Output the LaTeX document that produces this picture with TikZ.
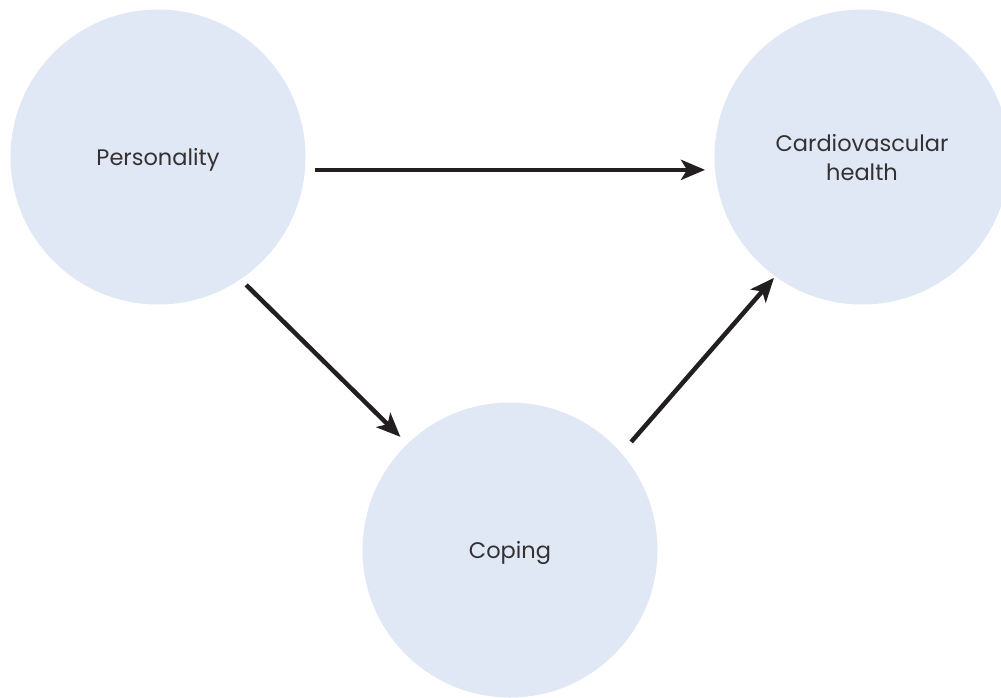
\documentclass[tikz,border=0pt]{standalone}
\usepackage{fontspec}
\setmainfont{Poppins}
\usetikzlibrary{arrows.meta}
\definecolor{bubble}{HTML}{E1E8F5}
\definecolor{ink}{HTML}{231F20}
\definecolor{textink}{HTML}{333132}
\tikzset{
  bub/.style={circle,fill=bubble,minimum size=295pt,inner sep=0pt,outer sep=0pt},
  lbl/.style={text=textink,font=\fontsize{22.5}{29}\selectfont,align=center,inner sep=0pt},
  link/.style={draw=ink,line width=4.5pt,-{Stealth[length=24pt,width=20pt,inset=6pt]}}
}
\begin{document}
\begin{tikzpicture}[x=1pt,y=-1pt]
\useasboundingbox (0,0) rectangle (1001,697);
\begin{scope}
\clip (0,0) rectangle (1001,697);
\node[bub] (p) at (158,157) {};
\node[bub] (c) at (862,157) {};
\node[bub] (k) at (510,550) {};
\end{scope}
\node[lbl] (pt) at (158,160) {Personality};
\node[lbl] (ct) at (862,158) {Cardiovascular\\health};
\node[lbl] (kt) at (510,553) {Coping};
\draw[link,shorten <=10pt,shorten >=10pt] (p.-5.8) -- (c.185.8);
\draw[link,shorten <=8pt,shorten >=10pt] (p.-56.8) -- (k.134.7);
\draw[link,shorten <=15pt,shorten >=2pt] (k.41.5) -- (c.234.2);
\end{tikzpicture}
\end{document}
